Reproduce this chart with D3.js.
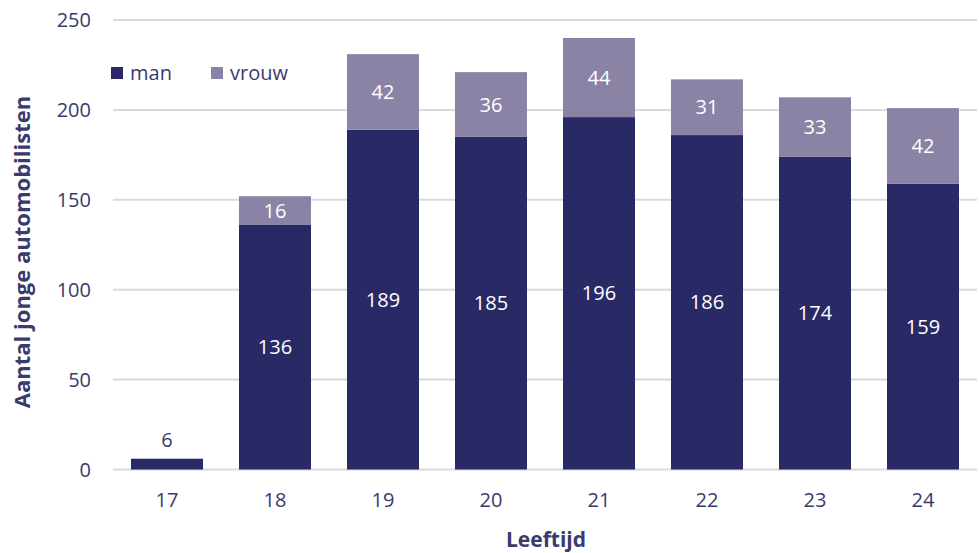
<!DOCTYPE html>
<html>
<head>
<meta charset="utf-8">
<script src="https://cdn.jsdelivr.net/npm/d3@7/dist/d3.min.js"></script>
<style>
  html, body { margin: 0; padding: 0; background: #fff; }
  svg { display: block; font-family: "Open Sans", Lato, sans-serif; }
</style>
</head>
<body>
<svg id="chart" width="979" height="553"></svg>
<script>
// Leeftijd categories and counts per sex
const ages = ["17", "18", "19", "20", "21", "22", "23", "24"];
const man = [6, 136, 189, 185, 196, 186, 174, 159];
const vrouw = [0, 16, 42, 36, 44, 31, 33, 42];
const yTicks = [0, 50, 100, 150, 200, 250];
const seriesNames = ["man", "vrouw"];
const colors = { man: "#292966", vrouw: "#8a83a5" };
const textColor = "#3a3a6c";

const svg = d3.select("#chart");
const x = d3.scaleBand().domain(ages).range([113, 977]).paddingInner(1 / 3).paddingOuter(1 / 6);
const y = d3.scaleLinear().domain([0, 250]).range([469.5, 20]);

// gridlines
svg.append("g").selectAll("line").data(yTicks).join("line")
  .attr("x1", 113).attr("x2", 977)
  .attr("y1", d => y(d)).attr("y2", d => y(d))
  .attr("stroke", "#d9d9e2").attr("stroke-width", 2);

// y tick labels
svg.append("g").selectAll("text").data(yTicks).join("text")
  .attr("x", 91).attr("y", d => y(d)).attr("dy", "0.35em")
  .attr("text-anchor", "end").attr("font-size", 20).attr("fill", textColor)
  .text(d => d);

// x tick labels
svg.append("g").selectAll("text").data(ages).join("text")
  .attr("x", d => x(d) + x.bandwidth() / 2).attr("y", 507)
  .attr("text-anchor", "middle").attr("font-size", 20).attr("fill", textColor)
  .text(d => d);

// stacked bars
const rows = ages.map((a, i) => ({ age: a, man: man[i], vrouw: vrouw[i] }));
const stack = d3.stack().keys(seriesNames)(rows);
const layers = svg.append("g").selectAll("g").data(stack).join("g")
  .attr("fill", d => colors[d.key]);
layers.selectAll("rect").data(d => d.filter(s => s[1] - s[0] > 0)).join("rect")
  .attr("x", d => x(d.data.age))
  .attr("width", x.bandwidth())
  .attr("y", d => y(d[1]))
  .attr("height", d => y(d[0]) - y(d[1]));

// value labels
stack.forEach(layer => {
  layer.forEach(s => {
    const v = s[1] - s[0];
    if (v <= 0) return;
    const small = (y(s[0]) - y(s[1])) < 24;
    svg.append("text")
      .attr("x", x(s.data.age) + x.bandwidth() / 2)
      .attr("y", small ? y(s[1]) - 19 : (y(s[0]) + y(s[1])) / 2)
      .attr("dy", "0.35em")
      .attr("text-anchor", "middle").attr("font-size", 20)
      .attr("fill", small ? textColor : "#ffffff")
      .text(v);
  });
});

// legend
const legend = svg.append("g");
const legendX = [111, 211];
seriesNames.forEach((k, i) => {
  legend.append("rect").attr("x", legendX[i]).attr("y", 67).attr("width", 12).attr("height", 12).attr("fill", colors[k]);
  legend.append("text").attr("x", legendX[i] + 19).attr("y", 73).attr("dy", "0.35em")
    .attr("font-size", 20).attr("fill", textColor).text(k);
});

// axis titles
svg.append("text")
  .attr("transform", "translate(30,252) rotate(-90)")
  .attr("text-anchor", "middle").attr("font-size", 22).attr("font-weight", "bold")
  .attr("fill", textColor).text("Aantal jonge automobilisten");
svg.append("text")
  .attr("x", 546).attr("y", 547)
  .attr("text-anchor", "middle").attr("font-size", 21).attr("font-weight", "bold")
  .attr("fill", textColor).text("Leeftijd");
</script>
</body>
</html>
